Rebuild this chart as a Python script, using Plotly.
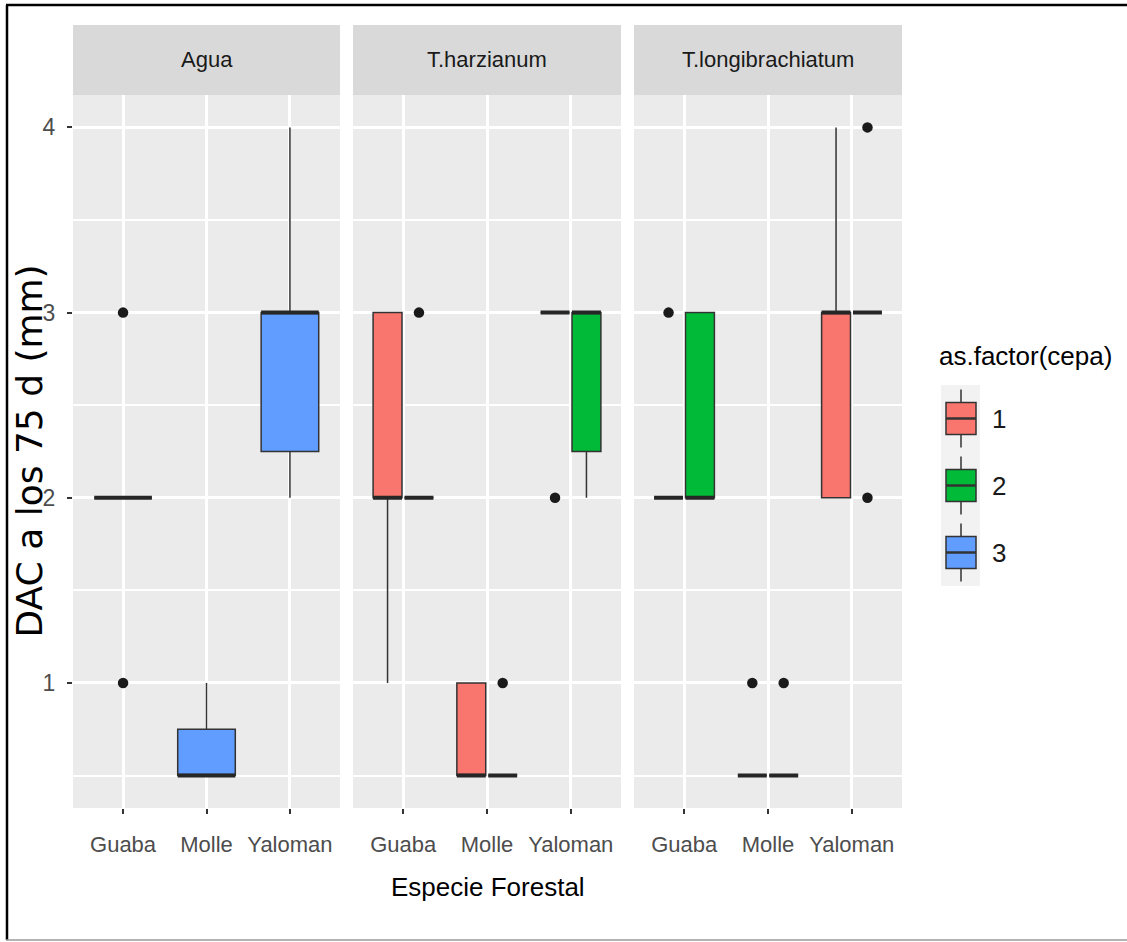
import plotly.graph_objects as go

W, H = 1127, 942

# ---- data -----------------------------------------------------------------
facets = ["Agua", "T.harzianum", "T.longibrachiatum"]
species = ["Guaba", "Molle", "Yaloman"]
cepa_levels = ["1", "2", "3"]
cepa_colors = ["#F8766D", "#00BA38", "#619CFF"]

# one entry per (facet, cepa) group present in the data; inner lists follow `species`
group_facet = ["Agua", "T.harzianum", "T.harzianum", "T.longibrachiatum", "T.longibrachiatum"]
group_cepa = ["3", "1", "2", "1", "2"]
q1_vals = [[2, 0.5, 2.25], [2, 0.5, 3], [2, 0.5, 2.25], [2, 0.5, 2], [2, 0.5, 3]]
median_vals = [[2, 0.5, 3], [2, 0.5, 3], [2, 0.5, 3], [2, 0.5, 3], [2, 0.5, 3]]
q3_vals = [[2, 0.75, 3], [3, 1, 3], [2, 0.5, 3], [2, 0.5, 3], [3, 0.5, 3]]
lower_vals = [[2, 0.5, 2], [1, 0.5, 3], [2, 0.5, 2], [2, 0.5, 2], [2, 0.5, 3]]
upper_vals = [[2, 1, 4], [3, 1, 3], [2, 0.5, 3], [2, 0.5, 4], [3, 0.5, 3]]
outlier_vals = [
    [[1, 3], [], []],
    [[], [], [2]],
    [[3], [1], []],
    [[3], [1], []],
    [[], [1], [2, 4]],
]

y_ticks = [1, 2, 3, 4]
y_range = [0.325, 4.175]

# ---- styling --------------------------------------------------------------
SANS = "Liberation Sans, Arial, sans-serif"
PANEL_BG = "#EBEBEB"
STRIP_BG = "#D9D9D9"
OUTLINE = "#333333"

panel_px = [(73, 340), (353, 621), (634, 902)]
panel_top, panel_bottom = 95, 808
strip_top = 25


def px(x):
    return x / W


def py(y):
    return 1 - y / H


def suffix(i):
    return "" if i == 0 else str(i + 1)


fig = go.Figure()

for g in range(len(group_facet)):
    f = facets.index(group_facet[g])
    s = suffix(f)
    color = cepa_colors[cepa_levels.index(group_cepa[g])]
    common = dict(
        xaxis="x" + s,
        yaxis="y" + s,
        alignmentgroup=group_facet[g],
        offsetgroup=group_facet[g] + "-" + group_cepa[g],
        whiskerwidth=0,
        showlegend=False,
        hoverinfo="skip",
    )
    # box body and whiskers
    fig.add_trace(go.Box(
        x=species,
        q1=q1_vals[g], median=median_vals[g], q3=q3_vals[g],
        lowerfence=lower_vals[g], upperfence=upper_vals[g],
        boxpoints=False,
        fillcolor=color,
        line=dict(color=OUTLINE, width=1.5),
        **common,
    ))
    # heavier median bar
    fig.add_trace(go.Box(
        x=species,
        q1=median_vals[g], median=median_vals[g], q3=median_vals[g],
        lowerfence=median_vals[g], upperfence=median_vals[g],
        boxpoints=False,
        fillcolor="rgba(0,0,0,0)",
        line=dict(color="#262626", width=4),
        **common,
    ))
    # outlying observations, placed in the same dodge slot as their box
    out_x = [species[j] for j, vals in enumerate(outlier_vals[g]) for _ in vals]
    out_y = [v for vals in outlier_vals[g] for v in vals]
    if out_y:
        fig.add_trace(go.Box(
            x=out_x, y=out_y,
            boxpoints="all", jitter=0, pointpos=0,
            fillcolor="rgba(0,0,0,0)",
            line=dict(color="rgba(0,0,0,0)", width=0),
            marker=dict(color="#1A1A1A", size=10.5),
            **common,
        ))

layout_axes = {}
for i, (x0, x1) in enumerate(panel_px):
    s = suffix(i)
    layout_axes["xaxis" + s] = dict(
        domain=[px(x0), px(x1)], anchor="y" + s,
        type="category", categoryorder="array", categoryarray=species,
        range=[-0.6, 2.6],
        showgrid=True, gridcolor="white", gridwidth=2.5,
        zeroline=False, showline=False,
        ticks="outside", ticklen=5, tickwidth=1.5, tickcolor=OUTLINE,
        tickfont=dict(family=SANS, size=22, color="#4D4D4D"),
        ticklabelstandoff=12,
    )
    layout_axes["yaxis" + s] = dict(
        domain=[py(panel_bottom), py(panel_top)], anchor="x" + s,
        range=y_range, tickvals=y_ticks,
        showgrid=True, gridcolor="white", gridwidth=3,
        minor=dict(dtick=0.5, tick0=0, showgrid=True, gridcolor="white", gridwidth=1.5, ticks=""),
        zeroline=False, showline=False,
        ticks="outside" if i == 0 else "", ticklen=5, tickwidth=1.5, tickcolor=OUTLINE,
        showticklabels=(i == 0),
        tickfont=dict(family=SANS, size=23, color="#4D4D4D"),
        ticklabelstandoff=7,
    )
    if i > 0:
        layout_axes["yaxis" + s]["matches"] = "y"

shapes = []
annotations = []

# facet strips
for (x0, x1), name in zip(panel_px, facets):
    shapes.append(dict(type="rect", xref="paper", yref="paper",
                       x0=px(x0), x1=px(x1), y0=py(panel_top), y1=py(strip_top),
                       fillcolor=STRIP_BG, line=dict(width=0), layer="below"))
    annotations.append(dict(text=name, xref="paper", yref="paper",
                            x=px((x0 + x1) / 2), y=py((strip_top + panel_top) / 2),
                            showarrow=False, xanchor="center", yanchor="middle",
                            font=dict(family=SANS, size=22, color="#1A1A1A")))

# axis titles
annotations.append(dict(text="Especie Forestal", xref="paper", yref="paper",
                        x=px((panel_px[0][0] + panel_px[-1][1]) / 2), y=py(887),
                        showarrow=False, xanchor="center", yanchor="middle",
                        font=dict(family=SANS, size=26, color="black")))
annotations.append(dict(text="DAC a los 75 d (mm)", xref="paper", yref="paper",
                        x=px(29), y=py((panel_top + panel_bottom) / 2), textangle=-90,
                        showarrow=False, xanchor="center", yanchor="middle",
                        font=dict(family="DejaVu Sans, Liberation Sans, sans-serif", size=36, color="black")))

# legend: title, key backgrounds, boxplot glyphs and labels
annotations.append(dict(text="as.factor(cepa)", xref="paper", yref="paper",
                        x=px(937), y=py(356), showarrow=False,
                        xanchor="left", yanchor="middle",
                        font=dict(family=SANS, size=26, color="black")))
key_top, key_h = 385, 67
shapes.append(dict(type="rect", xref="paper", yref="paper",
                   x0=px(941), x1=px(980), y0=py(key_top + 3 * key_h), y1=py(key_top),
                   fillcolor="#F2F2F2", line=dict(width=0)))
for k, (lvl, col) in enumerate(zip(cepa_levels, cepa_colors)):
    cy = key_top + key_h * k + key_h / 2
    shapes.append(dict(type="line", xref="paper", yref="paper",
                       x0=px(961), x1=px(961), y0=py(cy - 29), y1=py(cy + 29),
                       line=dict(color=OUTLINE, width=1.5)))
    shapes.append(dict(type="rect", xref="paper", yref="paper",
                       x0=px(946), x1=px(976), y0=py(cy + 16), y1=py(cy - 16),
                       fillcolor=col, line=dict(color=OUTLINE, width=1.5)))
    shapes.append(dict(type="line", xref="paper", yref="paper",
                       x0=px(946), x1=px(976), y0=py(cy), y1=py(cy),
                       line=dict(color=OUTLINE, width=2.5)))
    annotations.append(dict(text=lvl, xref="paper", yref="paper",
                            x=px(990), y=py(cy), showarrow=False,
                            xanchor="left", yanchor="middle",
                            font=dict(family=SANS, size=26, color="#1A1A1A")))

# outer frame (top and left edges dark, bottom light)
shapes.append(dict(type="line", xref="paper", yref="paper",
                   x0=px(6), x1=1, y0=py(5), y1=py(5), line=dict(color="black", width=2.5)))
shapes.append(dict(type="line", xref="paper", yref="paper",
                   x0=px(7), x1=px(7), y0=py(5), y1=py(940), line=dict(color="black", width=2.5)))
shapes.append(dict(type="line", xref="paper", yref="paper",
                   x0=px(6), x1=1, y0=py(940), y1=py(940), line=dict(color="#9A9A9A", width=1.5)))

fig.update_layout(
    width=W, height=H,
    margin=dict(l=0, r=0, t=0, b=0),
    paper_bgcolor="white", plot_bgcolor=PANEL_BG,
    boxmode="group", boxgap=0.25, boxgroupgap=0.08,
    showlegend=False,
    font=dict(family=SANS),
    shapes=shapes, annotations=annotations,
    **layout_axes,
)

fig.write_html("out.html")
